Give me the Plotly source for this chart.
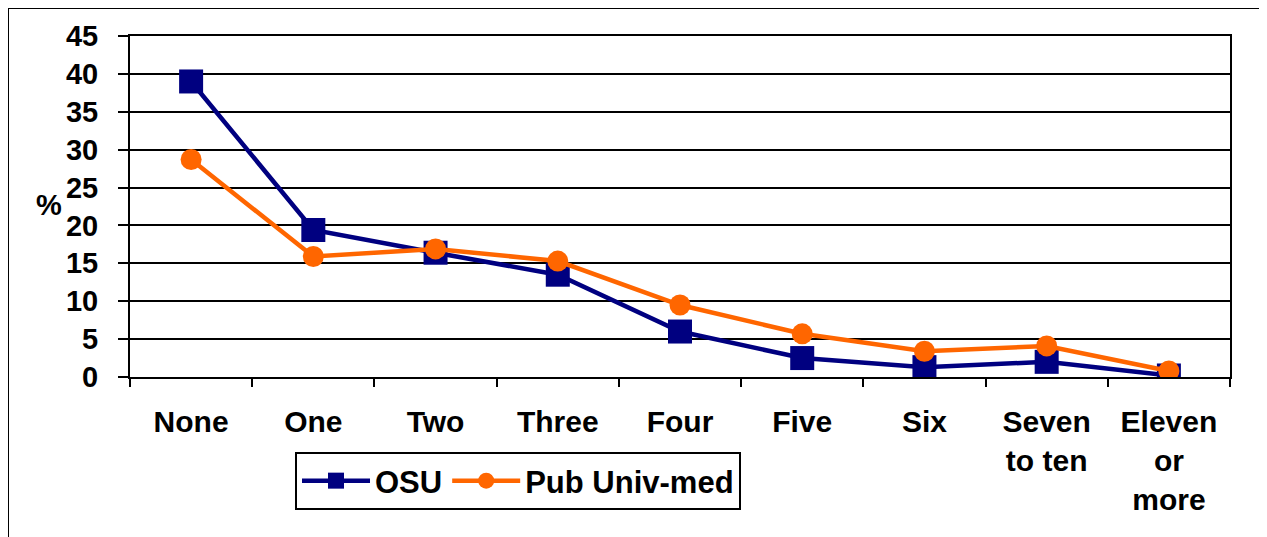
import plotly.graph_objects as go

categories = ["None", "One", "Two", "Three", "Four", "Five", "Six", "Seven<br>to ten", "Eleven<br>or<br>more"]
osu = [39.0, 19.4, 16.4, 13.5, 6.0, 2.5, 1.3, 2.0, 0.2]
pub = [28.7, 15.9, 16.9, 15.3, 9.5, 5.7, 3.4, 4.1, 0.8]
y_ticks = [0, 5, 10, 15, 20, 25, 30, 35, 40, 45]

FONT = "Liberation Sans, Arial, sans-serif"
NAVY = "#000080"
ORANGE = "#FF6600"

# page body has an 8px margin, so the figure starts at (8, 8)
W, H = 1259, 529
L, R, T, B = 122, 37, 28, 160
PW, PH = W - L - R, H - T - B


def px_x(sx):
    return (sx - 8 - L) / PW


def px_y(sy):
    return (H - B - (sy - 8)) / PH


fig = go.Figure()
fig.add_trace(go.Scatter(
    x=categories, y=osu, name="OSU", mode="lines+markers",
    line=dict(color=NAVY, width=4.5),
    marker=dict(symbol="square", size=24, color=NAVY),
))
fig.add_trace(go.Scatter(
    x=categories, y=pub, name="Pub Univ-med", mode="lines+markers",
    line=dict(color=ORANGE, width=4.5),
    marker=dict(symbol="circle", size=21, color=ORANGE),
))

fig.update_layout(
    width=W, height=H,
    margin=dict(l=L, r=R, t=T, b=B, pad=0),
    paper_bgcolor="white", plot_bgcolor="white",
    font=dict(family=FONT, size=28, color="black"),
    showlegend=True,
    legend=dict(
        orientation="h", x=px_x(295), y=px_y(452), xanchor="left", yanchor="top",
        xref="paper", yref="paper",
        bordercolor="black", borderwidth=2, bgcolor="white",
        font=dict(family=FONT, size=31, color="black", weight="bold"),
        itemwidth=68,
    ),
    shapes=[dict(type="rect", xref="paper", yref="paper",
                 x0=px_x(8), x1=px_x(1300),
                 y0=px_y(600), y1=px_y(8),
                 line=dict(color="black", width=2), layer="below")],
    annotations=[dict(text="<b>%</b>", x=px_x(49), y=px_y(205),
                      xref="paper", yref="paper", showarrow=False,
                      xanchor="center", yanchor="middle",
                      font=dict(family=FONT, size=29, color="black"))],
)

fig.update_xaxes(
    type="category", showgrid=False, showline=True, linecolor="black", linewidth=2,
    mirror=True, ticks="outside", ticklen=8, tickwidth=2, tickcolor="black",
    tickson="boundaries", ticklabelstandoff=17,
    tickfont=dict(family=FONT, size=30, color="black", weight="bold"),
    range=[-0.5, 8.5],
)
fig.update_yaxes(
    range=[0, 45], tickvals=y_ticks, showgrid=True, gridcolor="black", gridwidth=2,
    showline=True, linecolor="black", linewidth=2, mirror=True,
    ticks="outside", ticklen=10, tickwidth=2, tickcolor="black",
    ticklabelstandoff=14,
    tickfont=dict(family=FONT, size=29, color="black", weight="bold"),
    zeroline=False,
)

fig.write_html("out.html")
